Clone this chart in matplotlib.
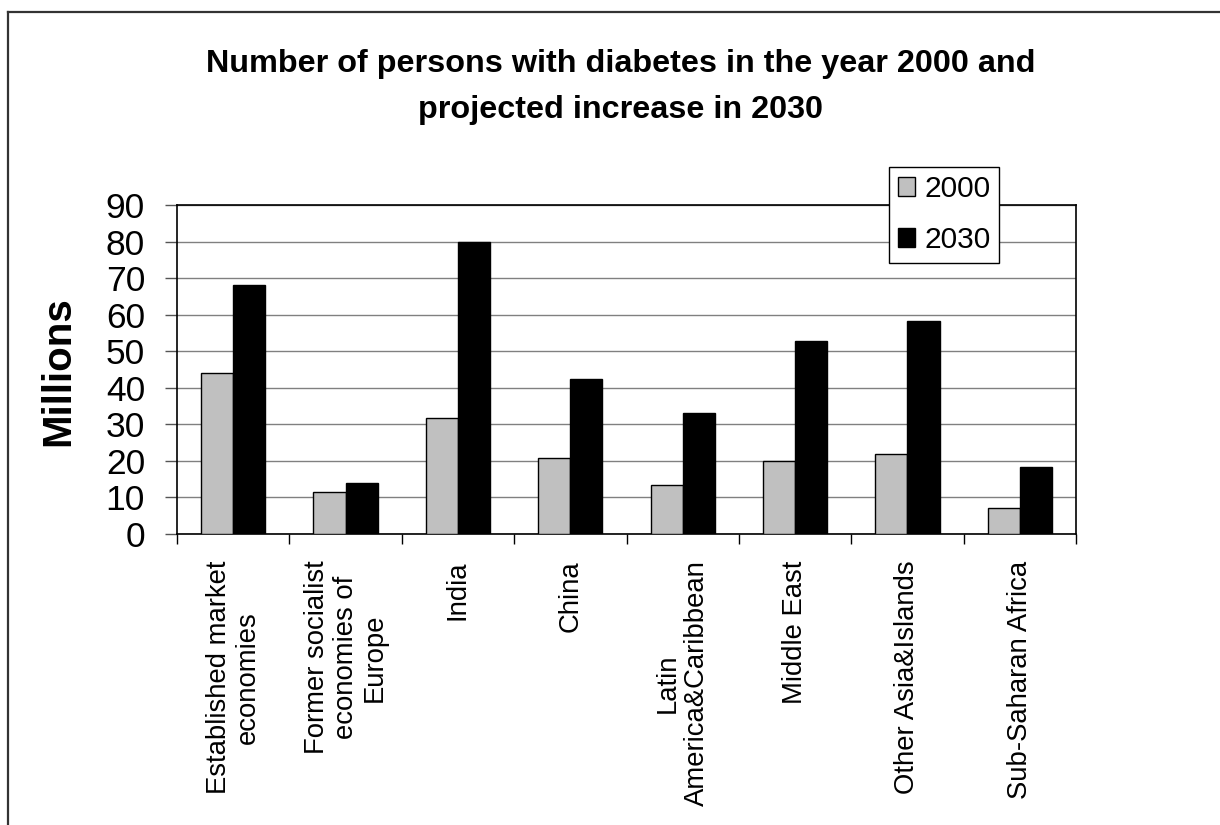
import matplotlib
matplotlib.use("Agg")
import matplotlib.pyplot as plt
import numpy as np
from matplotlib.lines import Line2D

# Data (millions of persons with diabetes)
regions = ["Established market\neconomies", "Former socialist\neconomies of\nEurope",
           "India", "China", "Latin\nAmerica&Caribbean", "Middle East",
           "Other Asia&Islands", "Sub-Saharan Africa"]
values_2000 = [44.0, 11.5, 31.7, 20.7, 13.3, 20.0, 21.9, 7.2]
values_2030 = [68.0, 14.0, 79.8, 42.3, 33.2, 52.8, 58.3, 18.4]
series_labels = ["2000", "2030"]
y_ticks = list(range(0, 100, 10))
title_lines = ["Number of persons with diabetes in the year 2000 and",
               "projected increase in 2030"]

plt.rcParams['font.family'] = ['Liberation Sans', 'DejaVu Sans']

W, H = 1220, 825
fig = plt.figure(figsize=(W / 100, H / 100), dpi=100)
ax = fig.add_axes([177 / W, 1 - 534 / H, (1076 - 177) / W, (534 - 205) / H])

x = np.arange(len(regions))
bw = 1 / 3.5  # Excel style gap width 150%
ax.bar(x - bw / 2, values_2000, width=bw, color='#c0c0c0', edgecolor='black',
       linewidth=1.0, label=series_labels[0], zorder=3)
ax.bar(x + bw / 2, values_2030, width=bw, color='black', edgecolor='black',
       linewidth=1.0, label=series_labels[1], zorder=3)

ax.set_xlim(-0.5, len(regions) - 0.5)
ax.set_ylim(0, 90)
ax.set_yticks(y_ticks)
ax.tick_params(axis='y', labelsize=25.5, length=9, width=1, color='#555555', pad=14)
ax.yaxis.grid(True, color='#808080', linewidth=1.0, zorder=0)
ax.set_axisbelow(True)

# category labels at centres, tick marks at the boundaries
ax.set_xticks(x)
ax.set_xticklabels(regions, rotation=90, fontsize=19.8, ha='center', va='top',
                   multialignment='center', linespacing=1.15)
ax.tick_params(axis='x', which='major', length=0, pad=19)
ax.set_xticks(np.arange(-0.5, len(regions)), minor=True)
ax.tick_params(axis='x', which='minor', length=7, width=1, color='black')

for s in ax.spines.values():
    s.set_color('black')
    s.set_linewidth(1.2)

fig.text(58 / W, 1 - 371 / H, "Millions", rotation=90, fontsize=29, fontweight='bold',
         ha='center', va='center')

# title, two lines placed by baseline
fig.text(621 / W, 1 - 72 / H, title_lines[0], fontsize=23.3, fontweight='bold',
         ha='center', va='baseline')
fig.text(621 / W, 1 - 118 / H, title_lines[1], fontsize=23.3, fontweight='bold',
         ha='center', va='baseline')

leg = ax.legend(loc='upper right', bbox_to_anchor=(999 / W, 1 - 166.7 / H),
                bbox_transform=fig.transFigure, fontsize=21.5, frameon=True,
                fancybox=False, handlelength=0.6, handleheight=0.6,
                handletextpad=0.3, borderpad=0.28, labelspacing=0.78,
                borderaxespad=0)
leg.get_frame().set_edgecolor('black')
leg.get_frame().set_linewidth(1.0)
leg.get_frame().set_alpha(1)
leg.set_zorder(10)

# outer chart border (left and top edges visible)
fig.add_artist(Line2D([7.5 / W, 7.5 / W], [0, 1 - 12 / H], color='#333333',
                      linewidth=1.6, transform=fig.transFigure))
fig.add_artist(Line2D([7.5 / W, 1], [1 - 12 / H, 1 - 12 / H], color='#333333',
                      linewidth=1.6, transform=fig.transFigure))

fig.savefig("out.png", dpi=100)
